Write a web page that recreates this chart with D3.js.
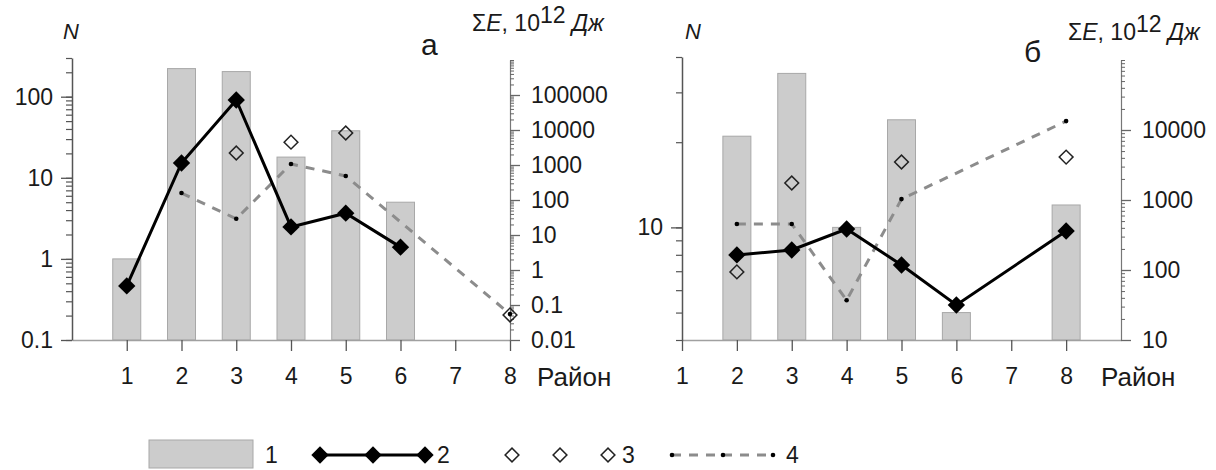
<!DOCTYPE html>
<html>
<head>
<meta charset="utf-8">
<script src="https://cdn.jsdelivr.net/npm/d3@7"></script>
<style>
  body { margin: 0; background: #fff; }
  text { font-family: "Liberation Sans", Arial, sans-serif; fill: #1a1a1a; }
</style>
</head>
<body>
<svg width="1216" height="470"></svg>
<script>
// districts (Район) 1..8
const districts = [1, 2, 3, 4, 5, 6, 7, 8];

// panel "а"
const aCount = [1, 222, 204, 18, 38, 5, null, null];          // 1 - bars, N
const aLine = [0.35, 1140, 72000, 17, 42, 4.5, null, null];   // 2 - black diamonds
const aOpen = [null, null, 2200, 4500, 8200, null, null, 0.052]; // 3 - open diamonds
const aDash = [null, 158, 29, 1070, 485, null, null, 0.055];  // 4 - dashed

// panel "б"
const bCount = [null, 21, 35, 10, 24, 5.0, null, 12];
const bLine = [null, 164, 193, 385, 118, 31.6, null, 361];
const bOpen = [null, 94, 1750, null, 3490, null, null, 4100];
const bDash = [null, 454, 454, 37, 1030, null, null, 13400];

// tick labels
const aLeftTicks = [0.1, 1, 10, 100];
const aRightTicks = [0.01, 0.1, 1, 10, 100, 1000, 10000, 100000];
const bLeftTicks = [10];
const bRightTicks = [10, 100, 1000, 10000];

const svg = d3.select("svg");
const fontSize = 23;

function minorTicks(lo, hi) {
  const out = [];
  for (let e = Math.floor(Math.log10(lo)); e <= Math.ceil(Math.log10(hi)); e++) {
    for (let m = 1; m < 10; m++) {
      const v = m * Math.pow(10, e);
      if (v >= lo * 0.999 && v <= hi * 1.001) out.push(v);
    }
  }
  return out;
}

function diamond(size) {
  return d3.symbol(d3.symbolSquare, size)();
}

function panel(opt) {
  const g = svg.append("g");
  const x = d3.scaleLinear().domain(opt.xDomain).range(opt.xRange);
  const yN = d3.scaleLog().domain(opt.nDomain).range([340, opt.nTop]);
  const yE = d3.scaleLog().domain(opt.eDomain).range([340, 60]);

  // bars
  g.selectAll("rect.bar")
    .data(districts.map((d, i) => ({d, v: opt.count[i]})).filter(p => p.v != null))
    .enter().append("rect")
    .attr("x", p => x(p.d) - 14)
    .attr("width", 28)
    .attr("y", p => yN(p.v))
    .attr("height", p => 340 - yN(p.v))
    .attr("fill", "#cccccc")
    .attr("stroke", "#a8a8a8")
    .attr("stroke-width", 1);

  // x axis
  const xAxis = d3.axisBottom(x).tickValues(districts).tickSize(11).tickSizeOuter(0).tickPadding(17);
  const xg = g.append("g").attr("transform", "translate(0,340)").call(xAxis);
  xg.select(".domain").attr("stroke", "#a0a0a0").attr("stroke-width", 1.5);
  xg.selectAll(".tick line").attr("stroke", "#555").attr("stroke-width", 1.3);
  xg.selectAll(".tick text").attr("font-size", fontSize).attr("font-family", "Liberation Sans, Arial");

  // left axis
  const lMinor = d3.axisLeft(yN).tickValues(minorTicks(...opt.nDomain)).tickSize(6).tickFormat("").tickSizeOuter(0);
  const lg0 = g.append("g").attr("transform", `translate(${opt.xRange[0]},0)`).call(lMinor);
  lg0.selectAll("line").attr("stroke", "#555").attr("stroke-width", 1.2);
  lg0.select(".domain").attr("stroke", "#555").attr("stroke-width", 1.5);
  const lMajor = d3.axisLeft(yN).tickValues(opt.leftTicks).tickSize(11).tickSizeOuter(0).tickPadding(8)
    .tickFormat(d => d3.format("~g")(d));
  const lg = g.append("g").attr("transform", `translate(${opt.xRange[0]},0)`).call(lMajor);
  lg.select(".domain").remove();
  lg.selectAll("line").attr("stroke", "#555").attr("stroke-width", 1.3);
  lg.selectAll("text").attr("font-size", fontSize).attr("font-family", "Liberation Sans, Arial");

  // right axis
  const rx = opt.xRange[1];
  const rMinor = d3.axisRight(yE).tickValues(minorTicks(...opt.eDomain)).tickSize(4).tickFormat("").tickSizeOuter(0);
  const rg0 = g.append("g").attr("transform", `translate(${rx},0)`).call(rMinor);
  rg0.selectAll("line").attr("stroke", "#666").attr("stroke-width", 1);
  rg0.select(".domain").attr("stroke", "#777").attr("stroke-width", 1.2);
  const rMajor = d3.axisRight(yE).tickValues(opt.rightTicks).tickSize(10).tickSizeOuter(0).tickPadding(11)
    .tickFormat(d => d3.format("~g")(d));
  const rg = g.append("g").attr("transform", `translate(${rx},0)`).call(rMajor);
  rg.select(".domain").remove();
  rg.selectAll("line").attr("stroke", "#666").attr("stroke-width", 1.3);
  rg.selectAll("text").attr("font-size", fontSize).attr("font-family", "Liberation Sans, Arial");

  const pts = arr => districts.map((d, i) => ({d, v: arr[i]})).filter(p => p.v != null);
  const line = d3.line().x(p => x(p.d)).y(p => yE(p.v));

  // 4 - dashed
  g.append("path").attr("d", line(pts(opt.dash)))
    .attr("fill", "none").attr("stroke", "#8c8c8c").attr("stroke-width", 3)
    .attr("stroke-dasharray", "9,8");
  g.selectAll("circle.dot").data(pts(opt.dash)).enter().append("circle")
    .attr("cx", p => x(p.d)).attr("cy", p => yE(p.v)).attr("r", 2.3).attr("fill", "#000");

  // 2 - black line
  g.append("path").attr("d", line(pts(opt.line)))
    .attr("fill", "none").attr("stroke", "#000").attr("stroke-width", 3);
  g.selectAll("path.bd").data(pts(opt.line)).enter().append("path")
    .attr("d", diamond(150))
    .attr("transform", p => `translate(${x(p.d)},${yE(p.v)}) rotate(45)`)
    .attr("fill", "#000");

  // 3 - open diamonds
  g.selectAll("path.od").data(pts(opt.open)).enter().append("path")
    .attr("d", diamond(95))
    .attr("transform", p => `translate(${x(p.d)},${yE(p.v)}) rotate(45)`)
    .attr("fill", "none").attr("stroke", "#222").attr("stroke-width", 1.5);

  // labels
  g.append("text").attr("x", opt.nX).attr("y", 39).attr("font-size", 22)
    .attr("font-style", "italic").text("N");
  const t = g.append("text").attr("x", opt.eX).attr("y", opt.eY).attr("font-size", 23);
  t.append("tspan").text("\u03a3");
  t.append("tspan").attr("font-style", "italic").text("E");
  t.append("tspan").text(", 10");
  t.append("tspan").attr("dy", -8).text("12");
  t.append("tspan").attr("dy", 8).text(" ");
  t.append("tspan").attr("font-style", "italic").text("Дж");
  g.append("text").attr("x", opt.pX).attr("y", opt.pY).attr("font-size", 30).text(opt.panelName);
  g.append("text").attr("x", opt.rayonX).attr("y", 386).attr("font-size", 26).text("Район");
}

panel({
  xDomain: [0, 8], xRange: [72, 510],
  nDomain: [0.1, 300], nTop: 58, eDomain: [0.01, 1e6],
  count: aCount, line: aLine, open: aOpen, dash: aDash,
  leftTicks: aLeftTicks, rightTicks: aRightTicks,
  nX: 63, eX: 472, eY: 31, pX: 421, pY: 55, panelName: "а", rayonX: 537
});

panel({
  xDomain: [1, 9], xRange: [682, 1121],
  nDomain: [4, 40], nTop: 57, eDomain: [10, 1e5],
  count: bCount, line: bLine, open: bOpen, dash: bDash,
  leftTicks: bLeftTicks, rightTicks: bRightTicks,
  nX: 685, eX: 1068, eY: 40, pX: 1024, pY: 62, panelName: "б", rayonX: 1101
});

// legend
const leg = svg.append("g");
const ly = 455;
leg.append("rect").attr("x", 149).attr("y", 440).attr("width", 104).attr("height", 28)
  .attr("fill", "#cccccc").attr("stroke", "#a8a8a8");
leg.append("text").attr("x", 265).attr("y", ly + 8).attr("font-size", fontSize).text("1");

const legX2 = [320, 373, 425];
leg.append("line").attr("x1", legX2[0]).attr("x2", legX2[2]).attr("y1", ly).attr("y2", ly)
  .attr("stroke", "#000").attr("stroke-width", 3);
leg.selectAll("path.l2").data(legX2).enter().append("path").attr("d", diamond(150))
  .attr("transform", d => `translate(${d},${ly}) rotate(45)`).attr("fill", "#000");
leg.append("text").attr("x", 437).attr("y", ly + 8).attr("font-size", fontSize).text("2");

const legX3 = [512, 560, 608];
leg.selectAll("path.l3").data(legX3).enter().append("path").attr("d", diamond(95))
  .attr("transform", d => `translate(${d},${ly}) rotate(45)`)
  .attr("fill", "none").attr("stroke", "#222").attr("stroke-width", 1.5);
leg.append("text").attr("x", 622).attr("y", ly + 8).attr("font-size", fontSize).text("3");

const legX4 = [672, 723, 773];
leg.append("line").attr("x1", legX4[0]).attr("x2", legX4[2]).attr("y1", ly).attr("y2", ly)
  .attr("stroke", "#8c8c8c").attr("stroke-width", 3).attr("stroke-dasharray", "9,8");
leg.selectAll("circle.l4").data(legX4).enter().append("circle")
  .attr("cx", d => d).attr("cy", ly).attr("r", 2.3).attr("fill", "#000");
leg.append("text").attr("x", 786).attr("y", ly + 8).attr("font-size", fontSize).text("4");
</script>
</body>
</html>
